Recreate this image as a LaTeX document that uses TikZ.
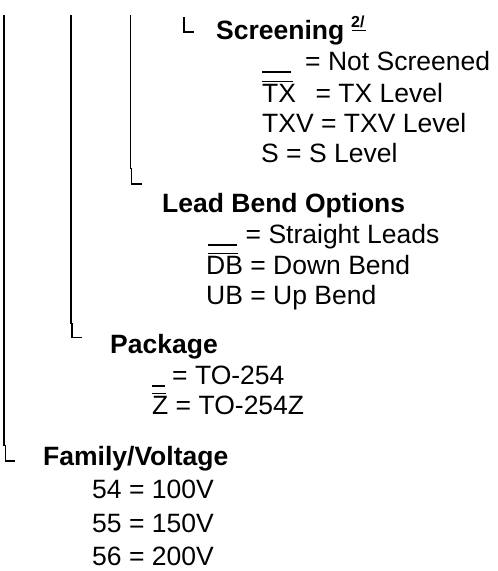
\documentclass[tikz,border=0pt]{standalone}
\usepackage{fontspec}
\setmainfont{Liberation Sans}
\newcommand{\barover}[4]{\leavevmode\rlap{\hspace*{#1}\rule[#2]{#3}{1.4pt}}#4}
\newcommand{\barunder}[1]{\rule[-2.7pt]{#1}{1.4pt}}
\tikzset{
  lbl/.style={anchor=base west, inner sep=0pt, font=\fontsize{26.5}{31}\selectfont},
  head/.style={anchor=base west, inner sep=0pt, font=\fontsize{26.5}{31}\selectfont\bfseries},
  trunk/.style={line width=1.7pt},
  ell/.style={line width=1.4pt},
}
\begin{document}
\begin{tikzpicture}[x=1pt,y=-1pt]
\useasboundingbox (0,0) rectangle (498,571);
% tree lines
\draw[trunk] (4.3,15) -- (4.3,445.5);
\draw[ell] (5.5,445) -- (5.5,461) -- (15,461);
\draw[trunk] (71,15) -- (71,323.5);
\draw[ell] (71.8,323) -- (71.8,337.5) -- (82,337.5);
\draw[trunk] (130.5,15) -- (130.5,168.5);
\draw[ell] (131.5,168) -- (131.5,184) -- (142,184);
\draw[ell] (184,17) -- (184,32) -- (194,32);
% Screening
\node[head] (scr) at (216,39) {Screening};
\node[anchor=base west, inner sep=0pt, font=\fontsize{16}{16}\selectfont\bfseries] (sup) at (351,27) {2/};
\draw[line width=1.3pt] (352,30.5) -- (366,30.5);
\node[lbl] (s1) at (262,70) {\barunder{29pt}\hspace{14pt}= Not Screened};
\node[lbl] (s2) at (262,102) {\barover{0pt}{19.8pt}{31pt}{TX}\hspace{19.6pt}= TX Level};
\node[lbl] (s3) at (262,132) {TXV = TXV Level};
\node[lbl] (s4) at (261,162) {S = S Level};
% Lead Bend Options
\node[head] (lead) at (162,212) {Lead Bend Options};
\node[lbl] (l1) at (208,243) {\barunder{29pt}\hspace{8.5pt}= Straight Leads};
\node[lbl] (l2) at (206,274) {\barover{2pt}{19.8pt}{30pt}{DB} = Down Bend};
\node[lbl] (l3) at (206,304) {UB = Up Bend};
% Package
\node[head] (pkg) at (110,353) {Package};
\node[lbl] (p1) at (152,384) {\barunder{12.5pt}\hspace{7.5pt}= TO-254};
\node[lbl] (p2) at (152,414) {\barover{0pt}{19.8pt}{14pt}{Z} = TO-254Z};
% Family/Voltage
\node[head] (fam) at (43,465) {Family/Voltage};
\node[lbl] (f1) at (92,498) {54 = 100V};
\node[lbl] (f2) at (92,532) {55 = 150V};
\node[lbl] (f3) at (92,565) {56 = 200V};
\end{tikzpicture}
\end{document}
